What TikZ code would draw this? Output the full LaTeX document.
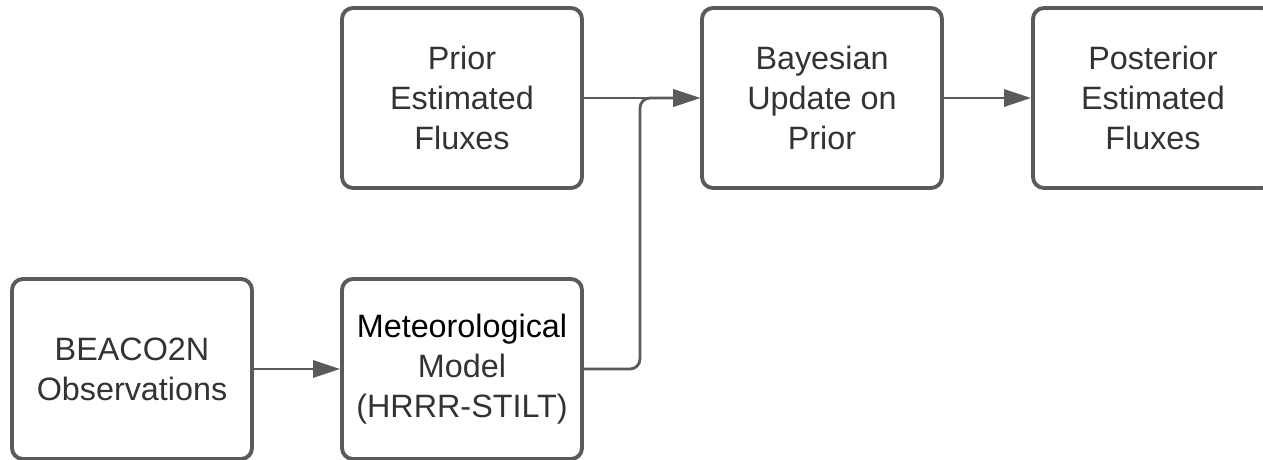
\documentclass[tikz,border=0pt]{standalone}
\usepackage{fontspec}
\setmainfont{Liberation Sans}
\usetikzlibrary{arrows.meta,positioning,calc}
\definecolor{fxLine}{HTML}{5A5A5A}
\definecolor{fxText}{HTML}{333333}
\tikzset{
    stage/.style={rectangle, draw=fxLine, line width=2.2pt, rounded corners=0.22cm, fill=white,
        minimum width=4.8cm, minimum height=3.6cm, align=center, text=fxText,
        font=\fontsize{18.4}{22.8}\selectfont},
    flow/.style={-{Triangle[length=0.54cm,width=0.34cm]}, line width=1.6pt, fxLine}
}

\begin{document}
\begin{tikzpicture}
    \useasboundingbox (0,0) rectangle (25.26,-9.18);
    % Top row
    \node[stage] at (9.24,-1.96) (prior) {Prior\\Estimated\\Fluxes};
    \node[stage] at (16.44,-1.96) (bayes) {Bayesian\\Update on\\Prior};
    \node[stage] at (23.06,-1.96) (post) {Posterior\\Estimated\\Fluxes};

    % Bottom row
    \node[stage] at (2.64,-7.38) (obs) {BEACO2N\\Observations};
    \node[stage] at (9.24,-7.38) (met) {\textcolor{black}{Meteorological}\\Model\\(HRRR-STILT)};

    % Junction of the two inputs
    \coordinate (joint) at (12.8,-1.96);

    % Arrows
    \draw[flow] (obs) -- (met);
    \draw[flow] (prior) -- (bayes);
    \draw[flow, rounded corners=0.2cm] (met.east) -| (joint) -- (bayes.west);
    \draw[flow] (bayes) -- (post);
\end{tikzpicture}
\end{document}
